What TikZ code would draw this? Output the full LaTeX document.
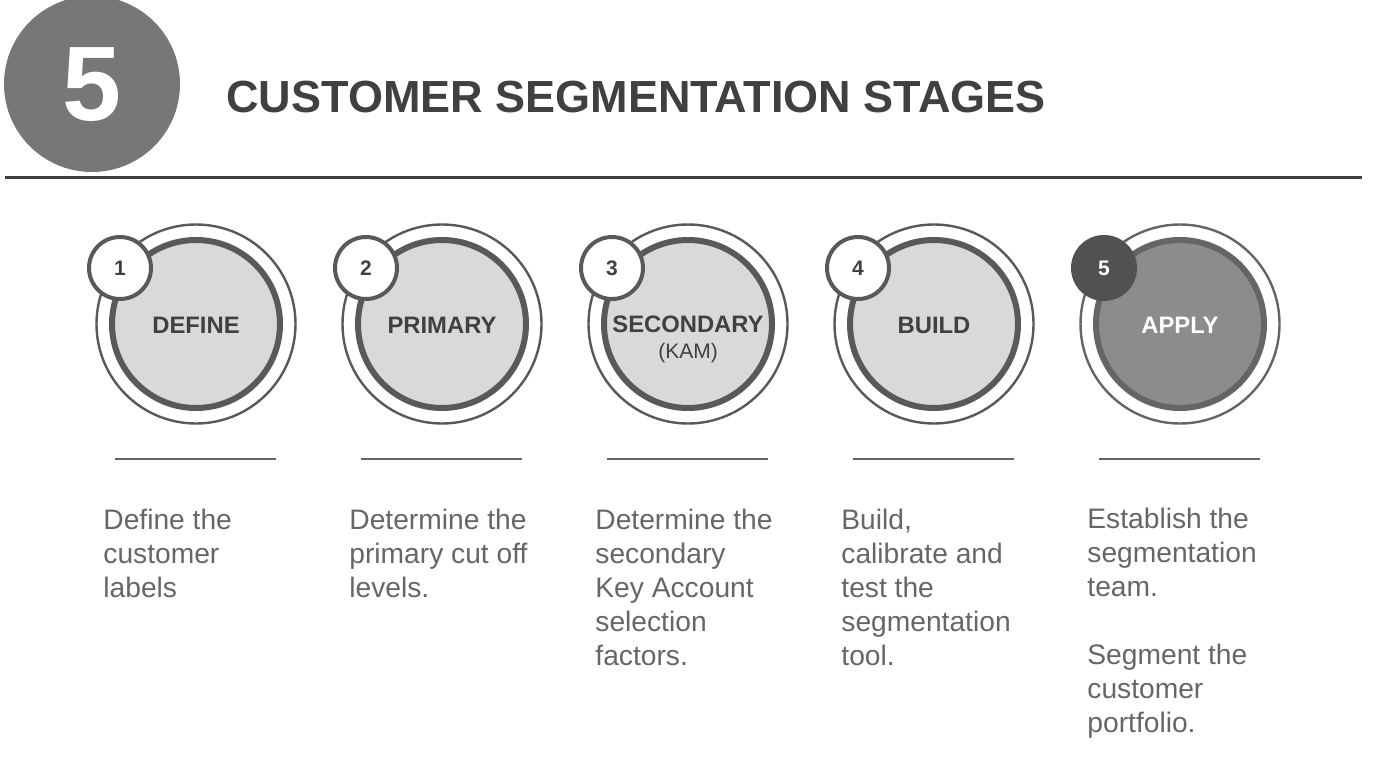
\documentclass[tikz,border=0pt]{standalone}
\usepackage{fontspec}
\setmainfont{Liberation Sans}
\definecolor{ringc}{HTML}{595959}
\definecolor{fillc}{HTML}{D9D9D9}
\definecolor{darkt}{HTML}{404040}
\definecolor{desct}{HTML}{666666}
\definecolor{bigc}{HTML}{777777}
\definecolor{applyfill}{HTML}{8C8C8C}
\definecolor{applyring}{HTML}{656565}
\definecolor{applybadge}{HTML}{515151}
\newcommand{\desctext}[1]{\parbox[t]{200pt}{\raggedright #1}}
\tikzset{
  outerring/.style={circle, draw=ringc, line width=1.2pt, fill=white, minimum size=99.5pt, inner sep=0pt},
  innerdisc/.style={circle, draw=ringc, line width=3pt, fill=fillc, minimum size=84pt, inner sep=0pt},
  badge/.style={circle, draw=ringc, line width=2pt, fill=white, minimum size=31pt, inner sep=0pt,
     font=\fontsize{10.5}{12}\selectfont\bfseries, text=darkt},
  stagelabel/.style={inner sep=0pt, font=\fontsize{11.9}{14}\selectfont\bfseries, text=darkt},
  sublabel/.style={inner sep=0pt, font=\fontsize{10.5}{12}\selectfont, text=darkt},
  sepline/.style={draw=desct, line width=1pt},
  desc/.style={inner sep=0pt, anchor=base west, text=desct,
     font=\fontsize{14.1}{17}\selectfont},
}
\begin{document}
\begin{tikzpicture}[x=0.5pt,y=-0.5pt]
\useasboundingbox (0,0) rectangle (1400,775);
% header
\node[circle, fill=bigc, minimum size=88pt, inner sep=0pt] (big) at (92,84) {};
\node[inner sep=0pt, text=white, font=\fontsize{53}{60}\selectfont\bfseries] (bignum) at (92,85) {5};
\node[inner sep=0pt, anchor=base west, text=darkt, font=\fontsize{22.5}{26}\selectfont\bfseries] (title) at (226,113) {CUSTOMER SEGMENTATION STAGES};
\coordinate (hl) at (5,178);
\coordinate (hr) at (1362,178);
\draw[draw=darkt, line width=1.5pt] (hl) -- (hr);

% stage 1
\node[outerring] (o1) at (196,324) {};
\node[innerdisc] (i1) at (196,324) {};
\node[stagelabel] (l1) at (196,325) {DEFINE};
\node[badge] (b1) at (120,268) {1};
% stage 2
\node[outerring] (o2) at (442,324) {};
\node[innerdisc] (i2) at (442,324) {};
\node[stagelabel] (l2) at (442,325) {PRIMARY};
\node[badge] (b2) at (366,268) {2};
% stage 3
\node[outerring] (o3) at (688,324) {};
\node[innerdisc] (i3) at (688,324) {};
\node[stagelabel] (l3) at (688,324) {SECONDARY};
\node[sublabel] (s3) at (688,353) {(KAM)};
\node[badge] (b3) at (612,268) {3};
% stage 4
\node[outerring] (o4) at (934,324) {};
\node[innerdisc] (i4) at (934,324) {};
\node[stagelabel] (l4) at (934,325) {BUILD};
\node[badge] (b4) at (858,268) {4};
% stage 5
\node[outerring, draw=applyring] (o5) at (1180,324) {};
\node[innerdisc, draw=applyring, fill=applyfill] (i5) at (1180,324) {};
\node[stagelabel, text=white] (l5) at (1180,325) {APPLY};
\node[badge, draw=applybadge, fill=applybadge, text=white] (b5) at (1104,268) {5};

% separators
\foreach \i in {0,...,4}{
  \coordinate (sl\i) at (115+246*\i,459);
  \coordinate (sr\i) at (276+246*\i,459);
  \draw[sepline] (sl\i) -- (sr\i);
}

% descriptions
\node[desc] (d1) at (103,529) {\desctext{Define the\\customer\\labels}};
\node[desc] (d2) at (349,529) {\desctext{Determine the\\primary cut off\\levels.}};
\node[desc] (d3) at (595,529) {\desctext{Determine the\\secondary\\Key Account\\selection\\factors.}};
\node[desc] (d4) at (841,529) {\desctext{Build,\\calibrate and\\test the\\segmentation\\tool.}};
\node[desc] (d5) at (1087,528) {\desctext{Establish the\\segmentation\\team.\\[17pt]Segment the\\customer\\portfolio.}};
\end{tikzpicture}
\end{document}
